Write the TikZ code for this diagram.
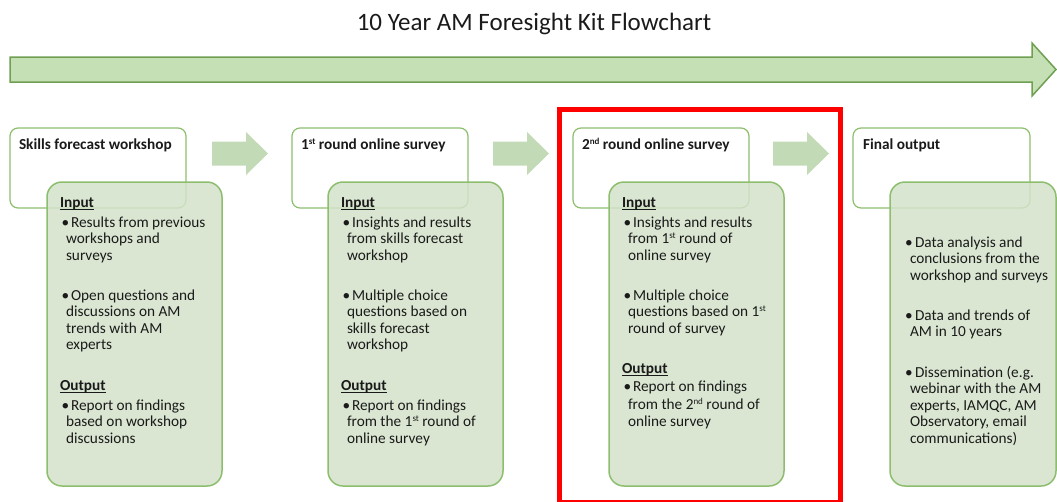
\documentclass[tikz,border=0pt]{standalone}
\usepackage{fontspec}
\setmainfont{Carlito}
\definecolor{arrowfill}{HTML}{C5E0B4}
\definecolor{arrowdraw}{HTML}{6F9F52}
\definecolor{smallarrow}{HTML}{C3DAB6}
\definecolor{boxline}{HTML}{8CBE6E}
\definecolor{boxfill}{HTML}{D3E2CA}
\definecolor{txtcol}{HTML}{1A1A1A}
\newcommand\supx[1]{\raisebox{5pt}{\fontsize{9}{10}\selectfont #1}}
\tikzset{
 whitebox/.style={draw=boxline, line width=1.2pt, fill=white, rounded corners=8pt, minimum width=176pt, minimum height=80pt, anchor=north west, inner sep=0pt, outer sep=0pt},
 greenbox/.style={draw=boxline, line width=1.5pt, fill=boxfill, fill opacity=0.85, rounded corners=15pt, minimum width=175pt, minimum height=304pt, anchor=north west, inner sep=0pt, outer sep=0pt},
 txt/.style={anchor=base west, inner sep=0pt, outer sep=0pt, font=\fontsize{15.3}{18}\selectfont, text=txtcol},
 head/.style={txt, font=\fontsize{15.3}{18}\selectfont\bfseries},
 ulline/.style={line width=0.9pt, draw=txtcol},
 bigarrow/.style={fill=arrowfill, draw=arrowdraw, line width=1.5pt, line join=miter},
 smallarr/.style={fill=smallarrow},
 focus/.style={draw=red, line width=5pt}
}
\begin{document}
\begin{tikzpicture}[x=1pt, y=-1pt]
\useasboundingbox (0,0) rectangle (1057,501);
% title
\node[anchor=base, inner sep=0pt, font=\fontsize{25}{30}\selectfont, text=txtcol] (title) at (534,30) {10 Year AM Foresight Kit Flowchart};
% big arrow
\draw[bigarrow] (10,57) -- (1032,57) -- (1032,43) -- (1056,69.5) -- (1032,96) -- (1032,82) -- (10,82) -- cycle;
% small arrows
\foreach \dx in {0,281,561}
  \fill[smallarr] (212+\dx,141.5) -- (246+\dx,141.5) -- (246+\dx,132) -- (268+\dx,153.5) -- (246+\dx,175) -- (246+\dx,165.5) -- (212+\dx,165.5) -- cycle;
% red focus frame
\draw[focus] (559.5,109.3) rectangle (840.3,502.5);
% white boxes
\node[whitebox] (w1) at (10,128) {};
\node[whitebox] (w2) at (292,128) {};
\node[whitebox] (w3) at (573,128) {};
\node[whitebox, minimum width=177pt] (w4) at (853,128) {};
% green boxes
\node[greenbox] (g1) at (47,182) {};
\node[greenbox] (g2) at (328,182) {};
\node[greenbox] (g3) at (609,182) {};
\node[greenbox, minimum width=166pt] (g4) at (890,182) {};
% headers
\node[head] (h1) at (19,149) {Skills forecast workshop};
\node[head] (h2) at (301,149) {1\supx{st} round online survey};
\node[head] (h3) at (582,149) {2\supx{nd} round online survey};
\node[head] (h4) at (863,149) {Final output};
% box 1
\node[head] (i1) at (60,207) {Input};
\node[txt] (p1a) at (61.5,227) {•};
\node[txt] (t1a) at (71,227) {Results from previous};
\node[txt] (t1b) at (66,243.5) {workshops and};
\node[txt] (t1c) at (66,260) {surveys};
\node[txt] (p1b) at (61.5,300) {•};
\node[txt] (t1d) at (71,300) {Open questions and};
\node[txt] (t1e) at (66,316.5) {discussions on AM};
\node[txt] (t1f) at (66,333) {trends with AM};
\node[txt] (t1g) at (66,349.5) {experts};
\node[head] (o1) at (60,390.5) {Output};
\node[txt] (p1c) at (61.5,410) {•};
\node[txt] (t1h) at (71,410) {Report on findings};
\node[txt] (t1i) at (66,426.5) {based on workshop};
\node[txt] (t1j) at (66,443) {discussions};
% box 2
\node[head] (i2) at (341,207) {Input};
\node[txt] (p2a) at (342.5,227) {•};
\node[txt] (t2a) at (352,227) {Insights and results};
\node[txt] (t2b) at (347,243.5) {from skills forecast};
\node[txt] (t2c) at (347,260) {workshop};
\node[txt] (p2b) at (342.5,300) {•};
\node[txt] (t2d) at (352,300) {Multiple choice};
\node[txt] (t2e) at (347,316.5) {questions based on};
\node[txt] (t2f) at (347,333) {skills forecast};
\node[txt] (t2g) at (347,349.5) {workshop};
\node[head] (o2) at (341,390.5) {Output};
\node[txt] (p2c) at (342.5,410) {•};
\node[txt] (t2h) at (352,410) {Report on findings};
\node[txt] (t2i) at (347,426.5) {from the 1\supx{st} round of};
\node[txt] (t2j) at (347,443) {online survey};
% box 3
\node[head] (i3) at (622,207) {Input};
\node[txt] (p3a) at (623.5,227) {•};
\node[txt] (t3a) at (633,227) {Insights and results};
\node[txt] (t3b) at (628,243.5) {from 1\supx{st} round of};
\node[txt] (t3c) at (628,260) {online survey};
\node[txt] (p3b) at (623.5,300) {•};
\node[txt] (t3d) at (633,300) {Multiple choice};
\node[txt] (t3e) at (628,316.5) {questions based on 1\supx{st}};
\node[txt] (t3f) at (628,333) {round of survey};
\node[head] (o3) at (622,373.5) {Output};
\node[txt] (p3c) at (623.5,391.5) {•};
\node[txt] (t3h) at (633,391.5) {Report on findings};
\node[txt] (t3i) at (628,409) {from the 2\supx{nd} round of};
\node[txt] (t3j) at (628,426.5) {online survey};
% box 4
\node[txt] (p4a) at (905,247) {•};
\node[txt] (t4a) at (915,247) {Data analysis and};
\node[txt] (t4b) at (910,263.5) {conclusions from the};
\node[txt] (t4c) at (910,280) {workshop and surveys};
\node[txt] (p4b) at (905,320) {•};
\node[txt] (t4d) at (915,320) {Data and trends of};
\node[txt] (t4e) at (910,336.5) {AM in 10 years};
\node[txt] (p4c) at (905,377) {•};
\node[txt] (t4f) at (915,377) {Dissemination (e.g.};
\node[txt] (t4g) at (910,393.5) {webinar with the AM};
\node[txt] (t4h) at (910,410) {experts, IAMQC, AM};
\node[txt] (t4i) at (910,426.5) {Observatory, email};
\node[txt] (t4j) at (910,443) {communications)};
% underlines
\foreach \n in {i1,o1,i2,o2,i3,o3}
  \draw[ulline] ([yshift=-2pt]\n.base west) -- ([yshift=-2pt]\n.base east);
\end{tikzpicture}
\end{document}
